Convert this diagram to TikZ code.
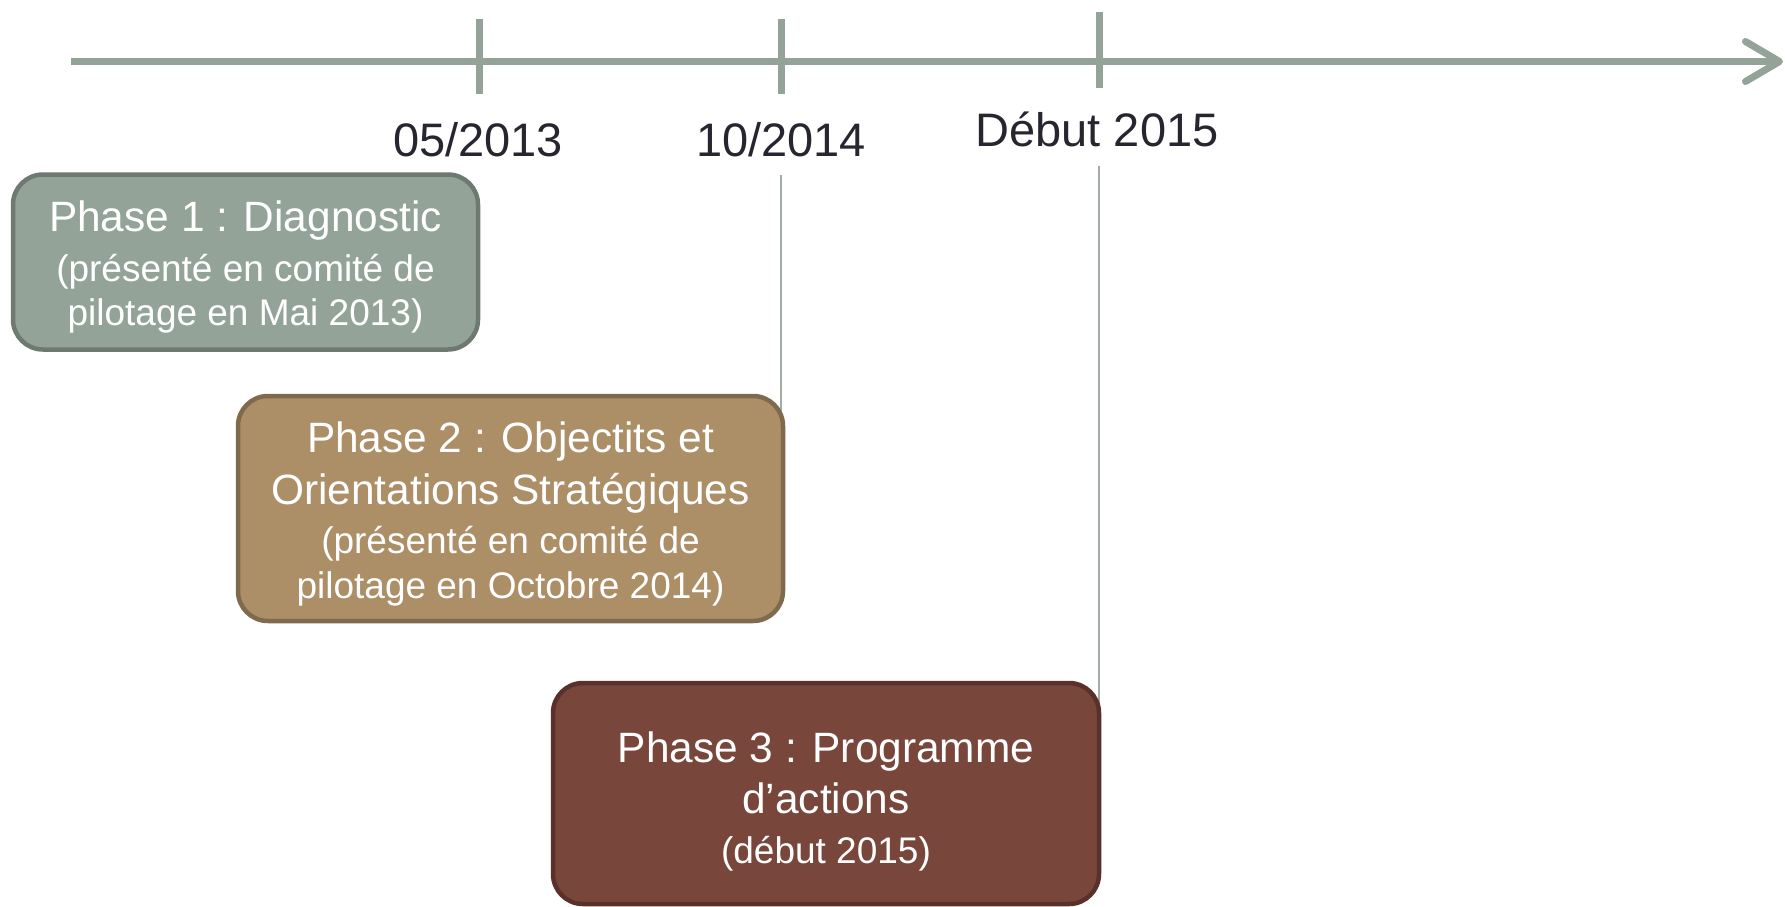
\documentclass[tikz,border=0pt]{standalone}
\usepackage{fontspec}
\setmainfont{Liberation Sans}
\usetikzlibrary{arrows.meta,backgrounds,calc}
\definecolor{axisc}{HTML}{93A398}
\definecolor{pafill}{HTML}{93A398}
\definecolor{paline}{HTML}{6E7A71}
\definecolor{pbfill}{HTML}{AC8E67}
\definecolor{pbline}{HTML}{7F6A4D}
\definecolor{pcfill}{HTML}{79463C}
\definecolor{pcline}{HTML}{5A302A}
\definecolor{connc}{HTML}{A3ACA7}
\definecolor{datec}{HTML}{262630}
\newcommand{\phbig}{\fontsize{21.2pt}{25pt}\selectfont}
\tikzset{
  axisline/.style={line width=3.5pt, draw=axisc},
  tickline/.style={line width=3.5pt, draw=axisc},
  datelabel/.style={font=\fontsize{23.5pt}{28pt}\selectfont, text=datec, anchor=base, inner sep=0pt},
  phasebox/.style={rounded corners=15pt, line width=2.25pt, inner sep=0pt},
  phasetext/.style={text=white, align=center, inner sep=0pt},
  conn/.style={draw=connc, line width=0.8pt}
}
\begin{document}
\begin{tikzpicture}[x=0.5pt, y=-0.5pt]
\useasboundingbox (0,0) rectangle (1785,906);
% axis
\coordinate (a0) at (71,61.5);
\coordinate (a1) at (1783,61.5);
\draw[axisline, -{Straight Barb[length=17pt, width=20pt, round]}] (a0) -- (a1);
% ticks
\coordinate (k1t) at (479,19);   \coordinate (k1b) at (479,94);
\coordinate (k2t) at (781,19);   \coordinate (k2b) at (781,94);
\coordinate (k3t) at (1099,12);  \coordinate (k3b) at (1099,88);
\draw[tickline] (k1t) -- (k1b);
\draw[tickline] (k2t) -- (k2b);
\draw[tickline] (k3t) -- (k3b);
% date labels
\node[datelabel] (l1) at (478,156) {05/2013};
\node[datelabel] (l2) at (781,156) {10/2014};
\node[datelabel] (l3) at (1097,146) {Début 2015};
% phase boxes
\node[phasebox, draw=paline, fill=pafill, minimum width=232.5pt, minimum height=87.5pt] (p1) at (245.5,262) {};
\node[phasebox, draw=pbline, fill=pbfill, minimum width=272.5pt, minimum height=112.5pt] (p2) at (510.5,508.5) {};
\node[phasebox, draw=pcline, fill=pcfill, minimum width=273pt, minimum height=110.5pt] (p3) at (826,793.5) {};
% texts
\node[phasetext, font=\fontsize{18.5pt}{22pt}\selectfont] (p1t) at (245.5,267) {{\phbig Phase 1 : Diagnostic}\\[2.7pt](présenté en comité de\\pilotage en Mai 2013)};
\node[phasetext, font=\fontsize{18.5pt}{22.75pt}\selectfont] (p2t) at (510.5,514) {{\phbig Phase 2 : Objectits et}\\[3.25pt]{\phbig Orientations Stratégiques}\\[1.9pt](présenté en comité de\\pilotage en Octobre 2014)};
\node[phasetext, font=\fontsize{18.5pt}{22.5pt}\selectfont] (p3t) at (826,801.5) {{\phbig Phase 3 : Programme}\\[3pt]{\phbig d’actions}\\[2.5pt](début 2015)};
% connectors
\begin{pgfonlayer}{background}
\draw[conn] ($(l2.base)+(0,19)$) -- (l2.base |- p2.center);
\draw[conn] ($(k3b |- l3.base)+(0,20)$) -- (k3b |- p3.center);
\end{pgfonlayer}
\end{tikzpicture}
\end{document}
